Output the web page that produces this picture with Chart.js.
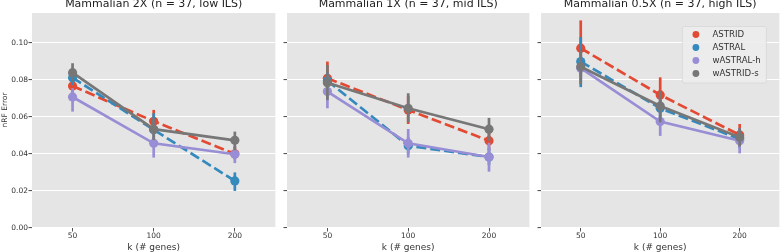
<!DOCTYPE html>
<html>
<head>
<meta charset="utf-8">
<script src="https://cdn.jsdelivr.net/npm/chart.js@4.4.1/dist/chart.umd.min.js"></script>
<style>
    body { margin: 0; background: #fff; }
    #wrap { position: relative; width: 784px; height: 252px; overflow: hidden; }
    canvas { position: absolute; top: 0; }
</style>
</head>
<body>
<div id="wrap">
    <canvas id="panel-2x" width="280" height="252" style="left:0px"></canvas>
    <canvas id="panel-1x" width="254" height="252" style="left:280px"></canvas>
    <canvas id="panel-05x" width="250" height="252" style="left:534px"></canvas>
</div>
<script>
// categories and labels
const kGenes = ['50', '100', '200'];
const methodNames = ['ASTRID', 'ASTRAL', 'wASTRAL-h', 'wASTRID-s'];
const methodColors = ['#E24A33', '#348ABD', '#988ED5', '#777777'];
const methodDashed = [true, true, false, false];
const panelTitles = [
    'Mammalian 2X (n = 37, low ILS)',
    'Mammalian 1X (n = 37, mid ILS)',
    'Mammalian 0.5X (n = 37, high ILS)'
];
const yTickStep = 0.02;
const yMax = 0.116;

// Mammalian 2X: mean nRF error and CI bounds
const astrid2x = [0.0766, 0.0576, 0.0400];
const astrid2xLo = [0.0710, 0.0520, 0.0370];
const astrid2xHi = [0.0820, 0.0637, 0.0440];
const astral2x = [0.0811, 0.0530, 0.0254];
const astral2xLo = [0.0770, 0.0460, 0.0200];
const astral2xHi = [0.0850, 0.0619, 0.0300];
const wastralh2x = [0.0707, 0.0457, 0.0398];
const wastralh2xLo = [0.0628, 0.0380, 0.0350];
const wastralh2xHi = [0.0755, 0.0520, 0.0440];
const wastrids2x = [0.0838, 0.0533, 0.0473];
const wastrids2xLo = [0.0790, 0.0475, 0.0420];
const wastrids2xHi = [0.0889, 0.0592, 0.0520];

// Mammalian 1X
const astrid1x = [0.0808, 0.0637, 0.0471];
const astrid1xLo = [0.0720, 0.0561, 0.0420];
const astrid1xHi = [0.0898, 0.0713, 0.0520];
const astral1x = [0.0795, 0.0444, 0.0383];
const astral1xLo = [0.0750, 0.0400, 0.0340];
const astral1xHi = [0.0840, 0.0490, 0.0430];
const wastralh1x = [0.0736, 0.0457, 0.0383];
const wastralh1xLo = [0.0646, 0.0380, 0.0304];
const wastralh1xHi = [0.0820, 0.0534, 0.0460];
const wastrids1x = [0.0784, 0.0646, 0.0533];
const wastrids1xLo = [0.0690, 0.0570, 0.0470];
const wastrids1xHi = [0.0880, 0.0727, 0.0594];

// Mammalian 0.5X
const astrid05x = [0.0970, 0.0718, 0.0502];
const astrid05xLo = [0.0820, 0.0620, 0.0440];
const astrid05xHi = [0.1120, 0.0813, 0.0561];
const astral05x = [0.0898, 0.0646, 0.0480];
const astral05xLo = [0.0760, 0.0570, 0.0430];
const astral05xHi = [0.1030, 0.0720, 0.0530];
const wastralh05x = [0.0862, 0.0574, 0.0471];
const wastralh05xLo = [0.0790, 0.0497, 0.0403];
const wastralh05xHi = [0.0930, 0.0650, 0.0540];
const wastrids05x = [0.0870, 0.0658, 0.0489];
const wastrids05xLo = [0.0775, 0.0570, 0.0440];
const wastrids05xHi = [0.0960, 0.0740, 0.0540];

const FONT = 'DejaVu Sans';

// grey ggplot-like panel background
const panelBg = {
    id: 'panelBg',
    beforeDraw(chart) {
        const { ctx, chartArea: a } = chart;
        ctx.save();
        ctx.fillStyle = '#E5E5E5';
        ctx.fillRect(a.left, a.top, a.right - a.left, a.bottom - a.top);
        ctx.restore();
    }
};

// vertical CI bars, drawn right after each dataset
const errorBars = {
    id: 'errorBars',
    afterDatasetDraw(chart, args) {
        const ds = chart.data.datasets[args.index];
        if (!ds.lo) return;
        const xs = chart.scales.x, ys = chart.scales.y, ctx = chart.ctx;
        ctx.save();
        ctx.strokeStyle = ds.borderColor;
        ctx.lineWidth = 2.7;
        ctx.setLineDash([]);
        ds.lo.forEach((lo, i) => {
            const px = xs.getPixelForValue(i);
            ctx.beginPath();
            ctx.moveTo(px, ys.getPixelForValue(lo));
            ctx.lineTo(px, ys.getPixelForValue(ds.hi[i]));
            ctx.stroke();
        });
        ctx.restore();
    }
};

// panel title (sits partly above the canvas top, like the original)
const panelTitle = {
    id: 'panelTitle',
    afterDraw(chart, args, opts) {
        if (!opts.text) return;
        const { ctx, chartArea: a } = chart;
        ctx.save();
        ctx.fillStyle = '#222';
        ctx.font = '11px ' + FONT;
        ctx.textAlign = 'center';
        ctx.textBaseline = 'alphabetic';
        ctx.fillText(opts.text, (a.left + a.right) / 2, 6.5);
        if (opts.yLabel) {
            ctx.translate(5, 110);
            ctx.rotate(-Math.PI / 2);
            ctx.fillStyle = '#333';
            ctx.font = '7.5px ' + FONT;
            ctx.textBaseline = 'middle';
            ctx.fillText(opts.yLabel, 0, 0);
        }
        ctx.restore();
    }
};

// legend box inside the last panel
const innerLegend = {
    id: 'innerLegend',
    afterDraw(chart, args, opts) {
        if (!opts.show) return;
        const { ctx, chartArea: a } = chart;
        const boxR = a.right - 13, boxL = boxR - 84, boxT = a.top + 13.5, boxB = boxT + 56.5;
        ctx.save();
        ctx.fillStyle = 'rgba(236,236,236,0.9)';
        ctx.strokeStyle = 'rgba(210,210,210,0.6)';
        ctx.lineWidth = 1;
        ctx.beginPath();
        ctx.roundRect(boxL, boxT, boxR - boxL, boxB - boxT, 2);
        ctx.fill();
        ctx.stroke();
        ctx.font = '8.6px ' + FONT;
        ctx.textBaseline = 'middle';
        ctx.textAlign = 'left';
        methodNames.forEach((name, i) => {
            const cy = boxT + 8 + i * 13;
            ctx.fillStyle = methodColors[i];
            ctx.beginPath();
            ctx.arc(boxL + 13.5, cy, 3.4, 0, Math.PI * 2);
            ctx.fill();
            ctx.fillStyle = '#333';
            ctx.fillText(name, boxL + 30, cy + 0.5);
        });
        ctx.restore();
    }
};

function buildDatasets(means, los, his) {
    return methodNames.map((name, m) => ({
        label: name,
        data: means[m],
        lo: los[m],
        hi: his[m],
        borderColor: methodColors[m],
        backgroundColor: methodColors[m],
        pointBackgroundColor: methodColors[m],
        pointBorderWidth: 0,
        pointRadius: 4.6,
        borderWidth: 2.7,
        borderDash: methodDashed[m] ? [10, 4] : [],
        tension: 0,
        fill: false,
        order: methodNames.length - m
    }));
}

function makePanel(canvasId, title, datasets, first, last, padRight) {
    new Chart(document.getElementById(canvasId), {
        type: 'line',
        data: { labels: kGenes, datasets: datasets },
        plugins: [panelBg, errorBars, panelTitle, innerLegend],
        options: {
            responsive: false,
            animation: false,
            devicePixelRatio: 1,
            layout: { padding: { top: 13, right: padRight, left: 0, bottom: 0 } },
            plugins: {
                legend: { display: false },
                tooltip: { enabled: false },
                panelTitle: { text: title, yLabel: first ? 'nRF Error' : null },
                innerLegend: { show: last }
            },
            scales: {
                x: {
                    type: 'category',
                    offset: true,
                    grid: {
                        offset: false,
                        drawOnChartArea: false,
                        drawTicks: true,
                        tickLength: 3.5,
                        tickColor: '#555'
                    },
                    border: { display: false },
                    ticks: {
                        color: '#333',
                        padding: 0,
                        font: { family: FONT, size: 7.5 },
                        maxRotation: 0
                    },
                    title: {
                        display: true,
                        text: 'k (# genes)',
                        color: '#333',
                        font: { family: FONT, size: 9, lineHeight: 1 },
                        padding: { top: 0, bottom: 0 }
                    },
                    afterFit(scale) { scale.height = 24; }
                },
                y: {
                    min: 0,
                    max: yMax,
                    grid: {
                        color: '#fff',
                        lineWidth: 1.1,
                        drawTicks: true,
                        tickLength: 3.5,
                        tickColor: '#555'
                    },
                    border: { display: false },
                    ticks: {
                        display: first,
                        stepSize: yTickStep,
                        includeBounds: false,
                        padding: 0.5,
                        color: '#333',
                        font: { family: FONT, size: 7.5 },
                        callback: v => v.toFixed(2)
                    },
                    afterFit(scale) { scale.width = first ? 32 : 7; }
                }
            }
        }
    });
}

makePanel('panel-2x', panelTitles[0],
    buildDatasets([astrid2x, astral2x, wastralh2x, wastrids2x],
                  [astrid2xLo, astral2xLo, wastralh2xLo, wastrids2xLo],
                  [astrid2xHi, astral2xHi, wastralh2xHi, wastrids2xHi]),
    true, false, 4);

makePanel('panel-1x', panelTitles[1],
    buildDatasets([astrid1x, astral1x, wastralh1x, wastrids1x],
                  [astrid1xLo, astral1xLo, wastralh1xLo, wastrids1xLo],
                  [astrid1xHi, astral1xHi, wastralh1xHi, wastrids1xHi]),
    false, false, 4);

makePanel('panel-05x', panelTitles[2],
    buildDatasets([astrid05x, astral05x, wastralh05x, wastrids05x],
                  [astrid05xLo, astral05xLo, wastralh05xLo, wastrids05xLo],
                  [astrid05xHi, astral05xHi, wastralh05xHi, wastrids05xHi]),
    false, true, 0);
</script>
</body>
</html>
